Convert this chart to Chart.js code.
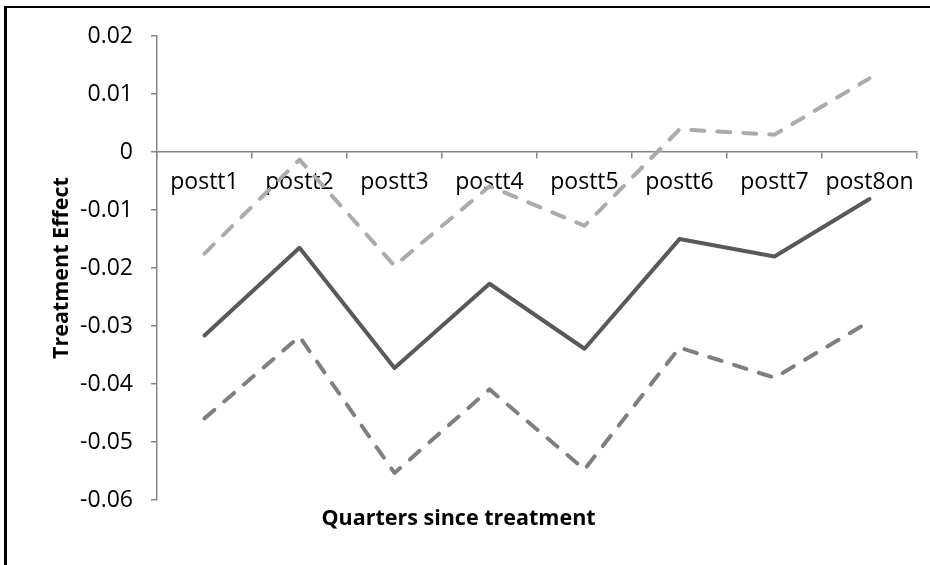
<!DOCTYPE html>
<html>
<head>
<meta charset="utf-8">
<script src="https://cdn.jsdelivr.net/npm/chart.js@4/dist/chart.umd.min.js"></script>
<style>
    html, body { margin: 0; padding: 0; background: #fff; }
    #wrap { position: relative; width: 930px; height: 565px; overflow: hidden; }
    #frame {
        position: absolute; left: 4px; top: 6px; width: 1000px; height: 1000px;
        border-top: 2px solid #000; border-left: 3px solid #000;
    }
    canvas { position: absolute; left: 0; top: 0; }
</style>
</head>
<body>
<div id="wrap">
    <div id="frame"></div>
    <canvas id="chart" width="930" height="565"></canvas>
</div>
<script>
const quarters = ['postt1', 'postt2', 'postt3', 'postt4', 'postt5', 'postt6', 'postt7', 'post8on'];
const effect = [-0.0316, -0.0165, -0.0372, -0.0227, -0.0339, -0.0150, -0.0180, -0.0081];
const upperBound = [-0.0175, -0.0013, -0.0196, -0.0059, -0.0127, 0.0039, 0.0030, 0.0127];
const lowerBound = [-0.0459, -0.0318, -0.0553, -0.0409, -0.0547, -0.0337, -0.0389, -0.0292];

const FONT = '"Open Sans", Lato, sans-serif';
const AXIS_GREY = '#868686';

function lineSet(data, color, dashed) {
    return {
        data: data,
        borderColor: color,
        borderWidth: 4,
        borderDash: dashed ? [13, 13] : [],
        borderCapStyle: 'round',
        borderJoinStyle: 'round',
        pointRadius: 0,
        tension: 0,
        fill: false,
    };
}

new Chart(document.getElementById('chart'), {
    type: 'line',
    data: {
        labels: quarters,
        datasets: [
            lineSet(effect, '#595959', false),
            lineSet(upperBound, '#ababab', true),
            lineSet(lowerBound, '#7f7f7f', true),
        ],
    },
    options: {
        responsive: false,
        devicePixelRatio: 1,
        animation: false,
        layout: { padding: { top: 36, right: 13, left: 0, bottom: 33 } },
        plugins: {
            legend: { display: false },
            tooltip: { enabled: false },
            title: {
                display: true,
                position: 'bottom',
                text: 'Quarters since treatment',
                color: '#000',
                font: { family: FONT, size: 21.5, weight: 'bold' },
                padding: { top: 6, bottom: 0 },
            },
        },
        scales: {
            x: {
                type: 'category',
                position: { y: 0 },
                offset: true,
                grid: {
                    offset: true,
                    drawOnChartArea: false,
                    tickLength: 6,
                    color: AXIS_GREY,
                    lineWidth: 1.5,
                },
                border: { color: AXIS_GREY, width: 1.5 },
                ticks: {
                    color: '#000',
                    padding: 11,
                    maxRotation: 0,
                    autoSkip: false,
                    font: { family: FONT, size: 23 },
                },
            },
            y: {
                min: -0.06,
                max: 0.02,
                afterFit(scale) { scale.width = 157; },
                grid: {
                    drawOnChartArea: false,
                    tickLength: 6,
                    color: AXIS_GREY,
                    lineWidth: 1.5,
                },
                border: { color: AXIS_GREY, width: 1.5 },
                ticks: {
                    stepSize: 0.01,
                    color: '#000',
                    padding: 18,
                    font: { family: FONT, size: 23 },
                    callback: (v) => String(+v.toFixed(2)),
                },
                title: {
                    display: true,
                    text: 'Treatment Effect',
                    color: '#000',
                    font: { family: FONT, size: 21.5, weight: 'bold' },
                    padding: { top: 49, bottom: 0 },
                },
            },
        },
    },
});
</script>
</body>
</html>
